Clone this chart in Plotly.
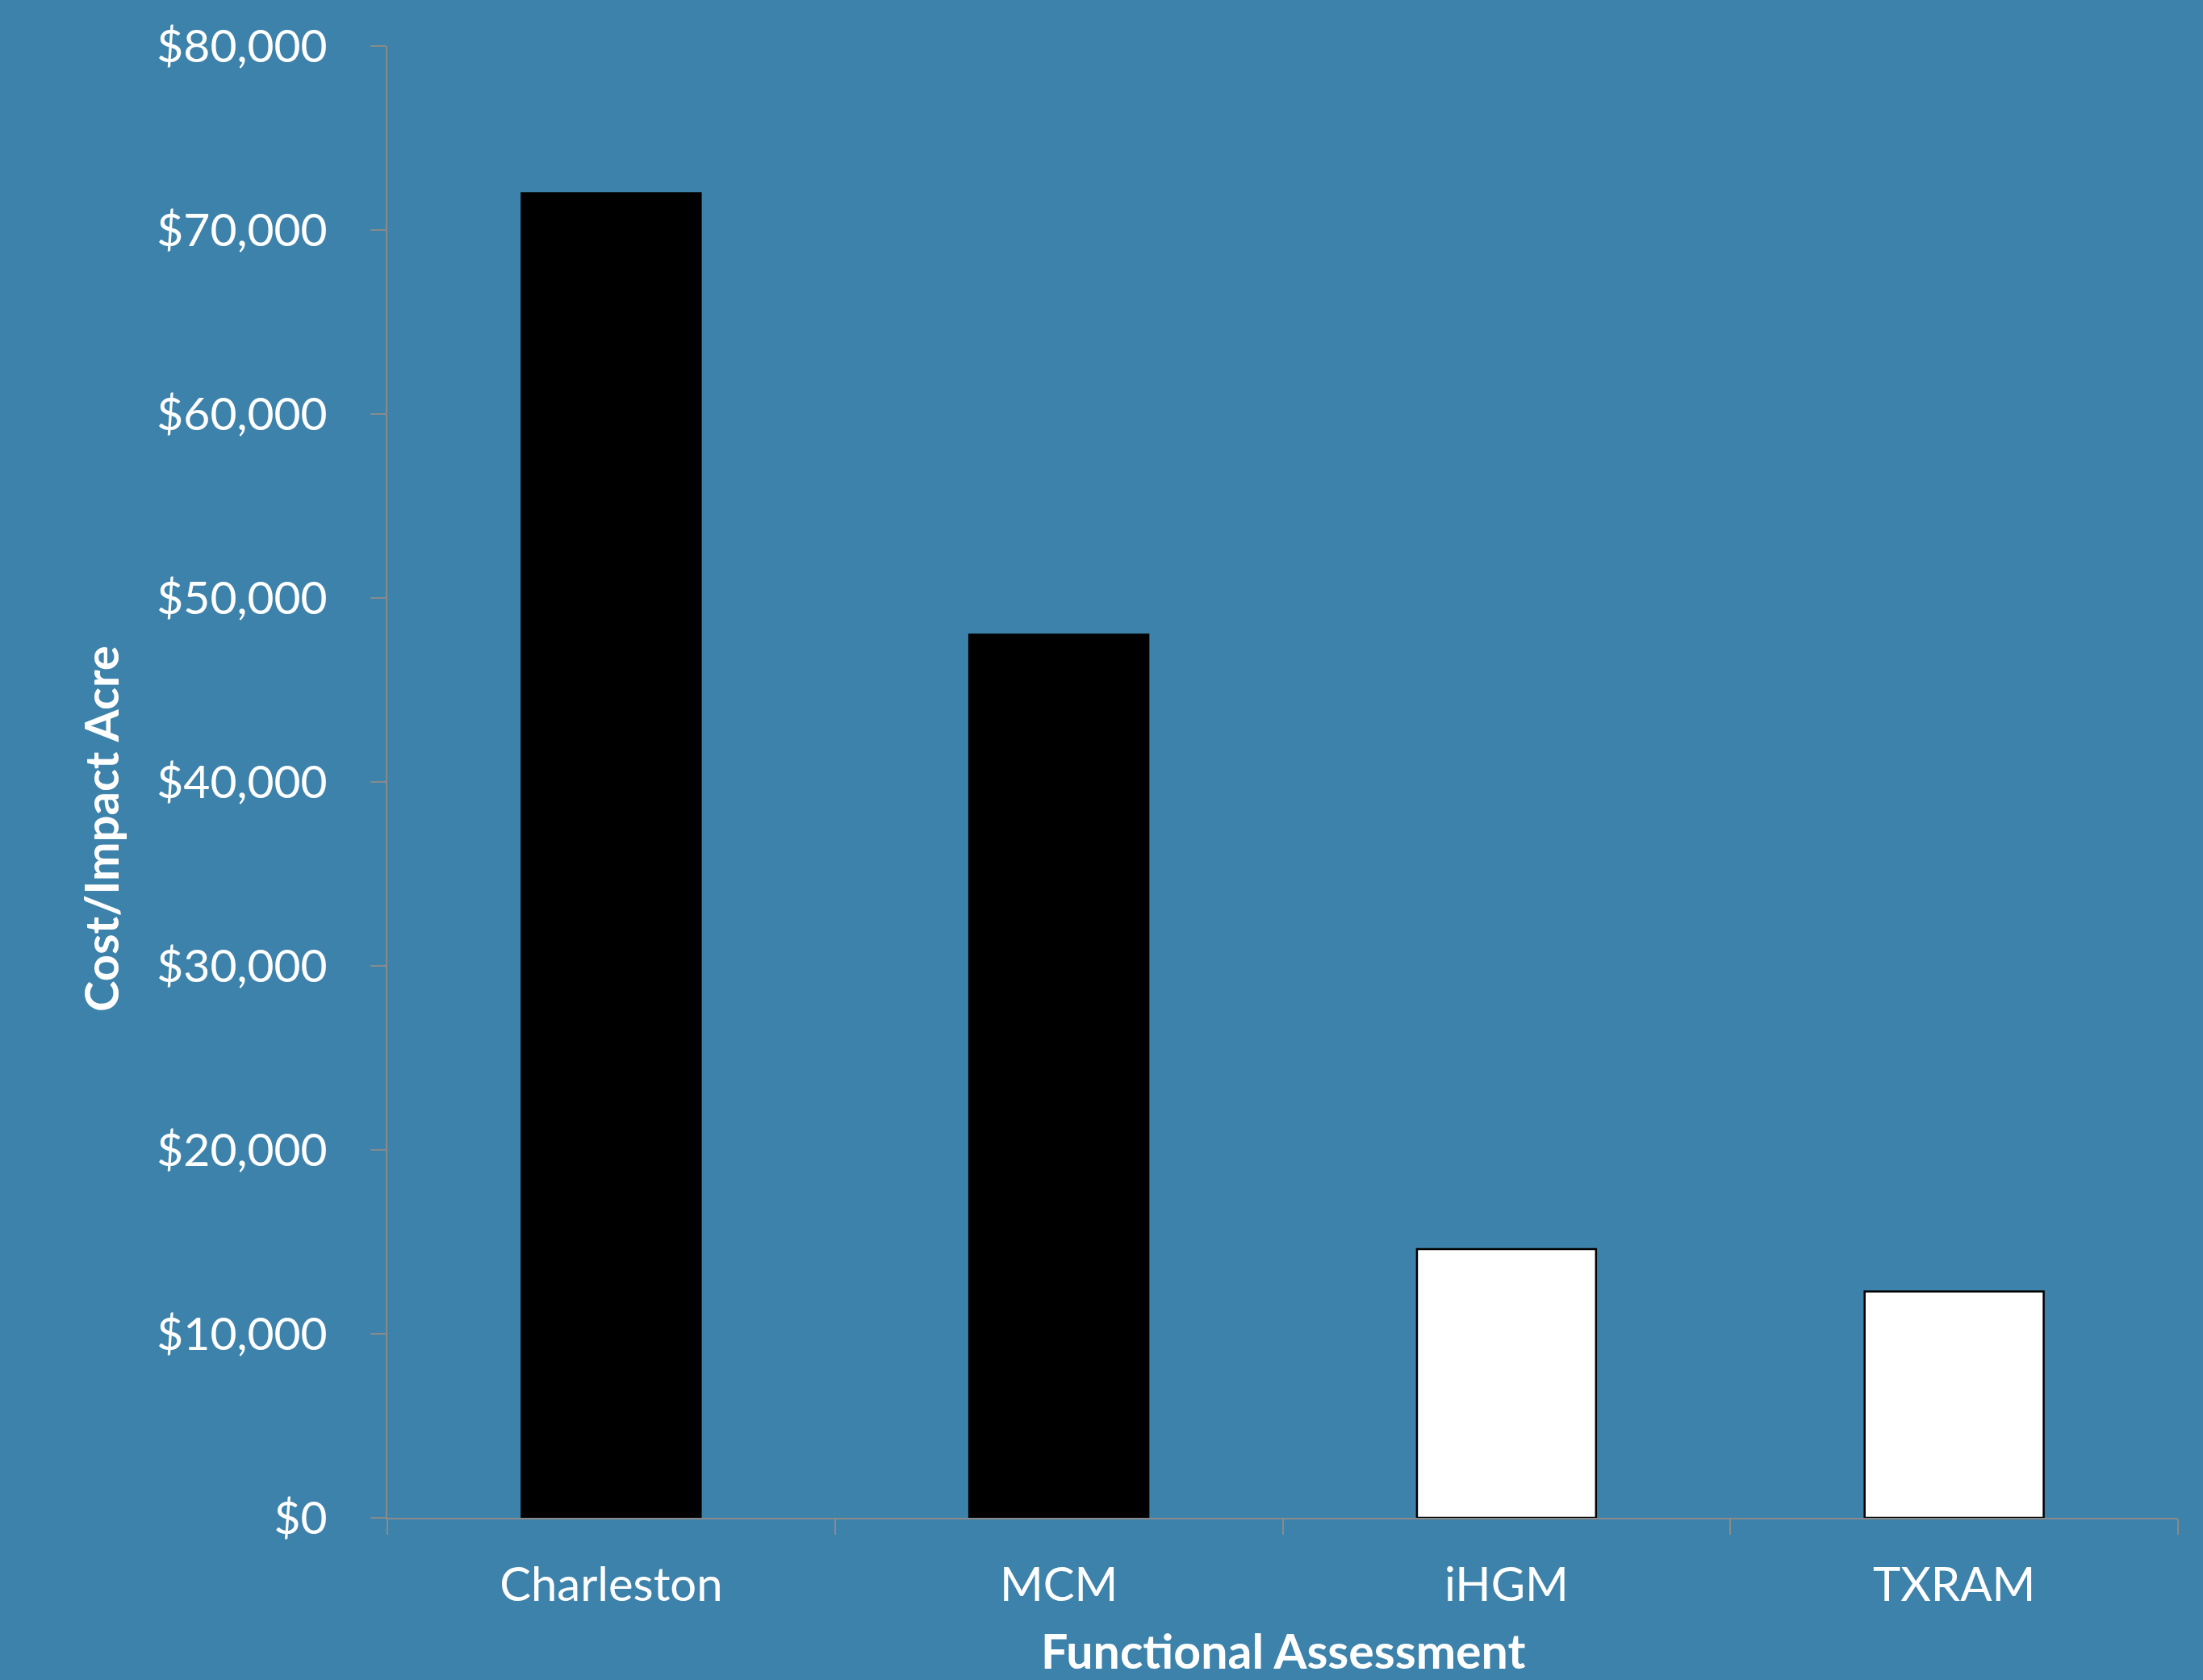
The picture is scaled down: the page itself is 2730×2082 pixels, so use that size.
import plotly.graph_objects as go

categories = ["Charleston", "MCM", "iHGM", "TXRAM"]
values = [72000, 48000, 14600, 12300]
bar_colors = ["#000000", "#000000", "#ffffff", "#ffffff"]
y_ticks = [0, 10000, 20000, 30000, 40000, 50000, 60000, 70000, 80000]
y_tick_text = ["$" + format(v, ",") for v in y_ticks]

W, H = 2730, 2082
L, R, T, B = 480, 31, 57, 201

fig = go.Figure()
fig.add_trace(go.Bar(
    x=categories, y=values,
    marker=dict(color=bar_colors, line=dict(color="#000000", width=2.5)),
    width=0.4,
))

font_family = "Lato, Open Sans, sans-serif"

fig.update_layout(
    width=W, height=H,
    margin=dict(l=L, r=R, t=T, b=B, autoexpand=False),
    paper_bgcolor="#3d82aa",
    plot_bgcolor="rgba(0,0,0,0)",
    showlegend=False,
    font=dict(family=font_family, color="#ffffff", size=57),
    xaxis=dict(
        showgrid=False, zeroline=False,
        showline=True, linecolor="#8a8a8a", linewidth=2,
        ticks="outside", tickson="boundaries", ticklen=19, tickcolor="#8a8a8a", tickwidth=2,
        tickfont=dict(size=58, color="#ffffff", family=font_family),
        ticklabelstandoff=31,
    ),
    yaxis=dict(
        range=[0, 80000], tickvals=y_ticks, ticktext=y_tick_text,
        showgrid=False, zeroline=False,
        showline=True, linecolor="#8a8a8a", linewidth=2,
        ticks="outside", ticklen=19, tickcolor="#8a8a8a", tickwidth=2,
        tickfont=dict(size=57, color="#ffffff", family=font_family),
        ticklabelstandoff=42,
    ),
    annotations=[
        dict(text="<b>Functional Assessment</b>", xref="paper", yref="paper",
             x=0.5, y=-(2046 - (H - B)) / (H - T - B),
             xanchor="center", yanchor="middle", showarrow=False,
             font=dict(size=59, color="#ffffff", family=font_family)),
        dict(text="<b>Cost/Impact Acre</b>", xref="paper", yref="paper",
             x=-(L - 124) / (W - L - R), y=((H - B) - 1027) / (H - T - B),
             xanchor="center", yanchor="middle", textangle=-90, showarrow=False,
             font=dict(size=58, color="#ffffff", family=font_family)),
    ],
)

fig.write_html("out.html", config={"displayModeBar": False},
               post_script="document.body.style.margin='0';document.body.style.background='#3d82aa';")
